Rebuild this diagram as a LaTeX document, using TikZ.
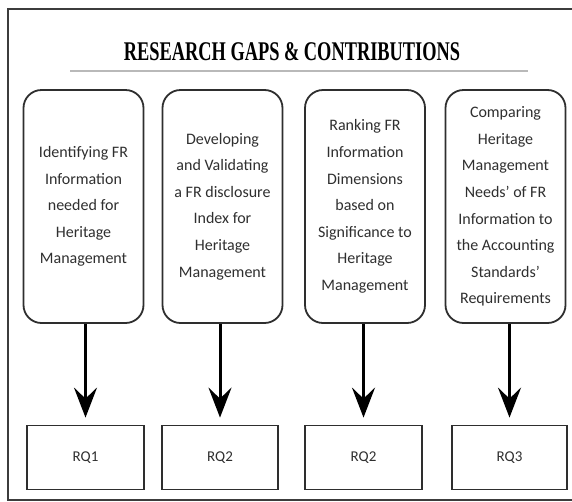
\documentclass[tikz,border=0pt]{standalone}
\usepackage{fontspec}
\setmainfont{Carlito}
\newfontfamily\titlefont[FakeStretch=0.68]{Liberation Serif}
\usetikzlibrary{arrows.meta}
\definecolor{framegray}{HTML}{3C3C3C}
\definecolor{edgegray}{HTML}{2E2E2E}
\definecolor{textgray}{HTML}{2F2F2F}
\tikzset{
  gapbox/.style={draw=edgegray, line width=1.8pt, rounded corners=18pt,
    minimum width=120pt, minimum height=233pt, inner sep=0pt,
    align=center, text=textgray, font=\fontsize{16}{26.6}\selectfont},
  rqbox/.style={draw=edgegray, line width=1.8pt, minimum height=64pt,
    inner sep=0pt, text=textgray, font=\fontsize{15}{18}\selectfont},
  link/.style={line width=3pt, -{Stealth[length=30pt,width=23pt,inset=11pt]},
    shorten >=7pt}
}
\begin{document}
\begin{tikzpicture}[x=1pt,y=-1pt]
\useasboundingbox (0,0) rectangle (572,501);
\fill[white] (0,0) rectangle (572,501);
% outer frame (its right side runs past the page edge)
\draw[framegray, line width=2.8pt] (580,9) -- (8,9) -- (8,500) -- (580,500);

% heading and rule
\node (title) at (292,52) {\titlefont\bfseries\fontsize{27}{30}\selectfont RESEARCH GAPS \& CONTRIBUTIONS};
\draw[gray!55, line width=2pt] (70,71) -- (528,71);

% contribution boxes
\node[gapbox] (g1) at (83.5,206.5) {Identifying FR\\Information\\needed for\\Heritage\\Management};
\node[gapbox] (g2) at (222.5,206.5) {Developing\\and Validating\\a FR disclosure\\Index for\\Heritage\\Management};
\node[gapbox] (g3) at (365,206.5) {Ranking FR\\Information\\Dimensions\\based on\\Significance to\\Heritage\\Management};
\node[gapbox] (g4) at (505.5,206.5) {Comparing\\Heritage\\Management\\Needs' of FR\\Information to\\the Accounting\\Standards'\\Requirements};

% research questions
\node[rqbox, minimum width=117pt] (q1) at (85.5,457.5) {RQ1};
\node[rqbox, minimum width=116pt] (q2) at (220,457.5) {RQ2};
\node[rqbox, minimum width=117pt] (q3) at (363.5,457.5) {RQ2};
\node[rqbox, minimum width=115pt] (q4) at (509.5,457.5) {RQ3};

% connectors
\draw[link] (g1.south -| q1.north) -- (q1.north);
\draw[link] (g2.south -| q2.north) -- (q2.north);
\draw[link] (g3.south -| q3.north) -- (q3.north);
\draw[link] (g4.south -| q4.north) -- (q4.north);
\end{tikzpicture}
\end{document}
